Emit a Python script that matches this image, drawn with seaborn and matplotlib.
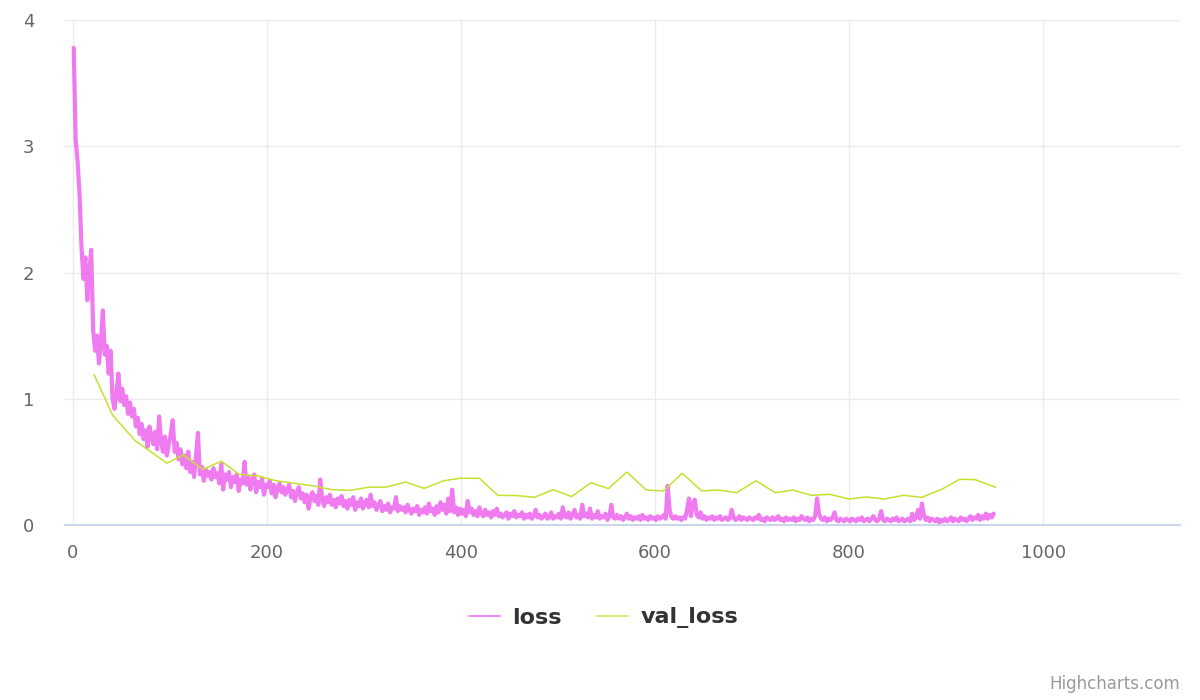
import numpy as np
import pandas as pd
import matplotlib
matplotlib.use("Agg")
import matplotlib.pyplot as plt
import seaborn as sns

# ---- data ----
loss_step_start = 1
loss_step_every = 2
loss = [
    3.78, 3.05, 2.88, 2.62, 2.20, 1.95, 2.12, 1.78, 2.00, 2.18,
    1.55, 1.38, 1.50, 1.28, 1.45, 1.70, 1.35, 1.42, 1.20, 1.38,
    1.00, 0.92, 1.05, 1.20, 0.98, 1.08, 0.95, 1.02, 0.88, 0.97,
    0.86, 0.92, 0.78, 0.85, 0.72, 0.80, 0.68, 0.75, 0.62, 0.78,
    0.70, 0.64, 0.74, 0.60, 0.86, 0.66, 0.58, 0.70, 0.55, 0.64,
    0.72, 0.83, 0.58, 0.65, 0.52, 0.60, 0.48, 0.55, 0.45, 0.58,
    0.42, 0.50, 0.38, 0.55, 0.73, 0.40, 0.46, 0.35, 0.44, 0.39,
    0.42, 0.36, 0.45, 0.38, 0.41, 0.33, 0.48, 0.28, 0.40, 0.36,
    0.42, 0.30, 0.38, 0.34, 0.40, 0.27, 0.36, 0.33, 0.50, 0.32,
    0.38, 0.28, 0.35, 0.40, 0.26, 0.34, 0.30, 0.37, 0.24, 0.32,
    0.30, 0.35, 0.25, 0.32, 0.22, 0.29, 0.33, 0.26, 0.30, 0.24,
    0.28, 0.32, 0.22, 0.27, 0.19, 0.26, 0.30, 0.21, 0.25, 0.18,
    0.24, 0.13, 0.22, 0.26, 0.19, 0.23, 0.16, 0.36, 0.20, 0.15,
    0.22, 0.18, 0.24, 0.16, 0.20, 0.14, 0.21, 0.17, 0.23, 0.15,
    0.19, 0.13, 0.20, 0.16, 0.22, 0.12, 0.18, 0.15, 0.21, 0.13,
    0.17, 0.20, 0.14, 0.24, 0.15, 0.18, 0.12, 0.16, 0.19, 0.11,
    0.15, 0.12, 0.17, 0.10, 0.14, 0.13, 0.22, 0.11, 0.15, 0.12,
    0.14, 0.10, 0.16, 0.12, 0.09, 0.13, 0.11, 0.15, 0.08, 0.12,
    0.10, 0.14, 0.09, 0.17, 0.11, 0.13, 0.08, 0.15, 0.10, 0.18,
    0.12, 0.16, 0.09, 0.21, 0.11, 0.28, 0.10, 0.14, 0.08, 0.13,
    0.09, 0.12, 0.07, 0.19, 0.10, 0.13, 0.08, 0.11, 0.07, 0.14,
    0.09, 0.07, 0.12, 0.08, 0.10, 0.06, 0.11, 0.08, 0.13, 0.07,
    0.09, 0.06, 0.08, 0.10, 0.05, 0.09, 0.07, 0.11, 0.06, 0.08,
    0.07, 0.10, 0.05, 0.08, 0.06, 0.09, 0.05, 0.07, 0.12, 0.06,
    0.08, 0.05, 0.07, 0.09, 0.05, 0.06, 0.10, 0.05, 0.07, 0.06,
    0.09, 0.05, 0.14, 0.07, 0.06, 0.10, 0.05, 0.08, 0.12, 0.06,
    0.08, 0.05, 0.16, 0.07, 0.09, 0.06, 0.13, 0.05, 0.08, 0.06,
    0.11, 0.05, 0.07, 0.06, 0.09, 0.04, 0.07, 0.16, 0.06, 0.05,
    0.08, 0.05, 0.07, 0.04, 0.06, 0.09, 0.05, 0.07, 0.04, 0.06,
    0.05, 0.07, 0.04, 0.08, 0.05, 0.06, 0.04, 0.07, 0.05, 0.06,
    0.04, 0.07, 0.05, 0.06, 0.08, 0.05, 0.31, 0.12, 0.06, 0.05,
    0.07, 0.05, 0.06, 0.04, 0.06, 0.05, 0.12, 0.21, 0.07, 0.17,
    0.20, 0.08, 0.06, 0.10, 0.05, 0.07, 0.04, 0.06, 0.05, 0.07,
    0.04, 0.06, 0.05, 0.07, 0.04, 0.05, 0.06, 0.04, 0.05, 0.12,
    0.06, 0.04, 0.05, 0.07, 0.04, 0.06, 0.05, 0.04, 0.06, 0.05,
    0.04, 0.06, 0.05, 0.08, 0.04, 0.05, 0.03, 0.06, 0.05, 0.04,
    0.06, 0.04, 0.05, 0.07, 0.04, 0.05, 0.03, 0.06, 0.04, 0.05,
    0.04, 0.06, 0.03, 0.05, 0.04, 0.07, 0.05, 0.04, 0.06, 0.03,
    0.05, 0.04, 0.07, 0.21, 0.09, 0.05, 0.04, 0.06, 0.03, 0.05,
    0.04, 0.06, 0.10, 0.04, 0.03, 0.05, 0.04, 0.03, 0.05, 0.04,
    0.03, 0.05, 0.04, 0.03, 0.05, 0.04, 0.06, 0.03, 0.04, 0.05,
    0.03, 0.05, 0.07, 0.04, 0.03, 0.05, 0.11, 0.04, 0.03, 0.05,
    0.04, 0.03, 0.05, 0.04, 0.06, 0.03, 0.04, 0.05, 0.03, 0.04,
    0.05, 0.03, 0.09, 0.04, 0.06, 0.12, 0.05, 0.17, 0.08, 0.04,
    0.06, 0.03, 0.05, 0.04, 0.03, 0.05, 0.02, 0.04, 0.03, 0.05,
    0.03, 0.04, 0.06, 0.03, 0.05, 0.04, 0.03, 0.06, 0.04, 0.05,
    0.03, 0.05, 0.07, 0.04, 0.06, 0.05, 0.08, 0.04, 0.07, 0.05,
    0.09, 0.05, 0.08, 0.06, 0.09,
]
loss_steps = [loss_step_start + loss_step_every * i for i in range(len(loss))]

val_steps = [22, 41, 64, 97, 114, 134, 153, 172, 190, 210,
             229, 248, 267, 286, 306, 323, 343, 362, 382, 399,
             419, 438, 457, 476, 495, 514, 534, 552, 571, 591,
             609, 628, 648, 665, 684, 704, 724, 742, 761, 780,
             800, 818, 836, 856, 875, 896, 914, 930, 951]
val_loss = [1.19, 0.87, 0.67, 0.49, 0.555, 0.44, 0.505, 0.40, 0.39, 0.35,
            0.33, 0.31, 0.28, 0.275, 0.30, 0.30, 0.34, 0.29, 0.35, 0.37,
            0.37, 0.235, 0.233, 0.22, 0.28, 0.225, 0.335, 0.288, 0.42, 0.277,
            0.27, 0.41, 0.27, 0.277, 0.256, 0.35, 0.256, 0.277, 0.235, 0.243,
            0.206, 0.222, 0.206, 0.235, 0.219, 0.285, 0.362, 0.359, 0.30]

x_ticks = [0, 200, 400, 600, 800, 1000]
y_ticks = [0, 1, 2, 3, 4]
series_names = ["loss", "val_loss"]

# ---- style ----
sns.set_style("white")
plt.rcParams['font.family'] = ['DejaVu Sans']

LOSS_C = "#eb4feb"
VAL_C = "#c6e02e"

fig = plt.figure(figsize=(12, 7), dpi=100)
ax = fig.add_axes([65 / 1200, 1 - 525 / 700, (1180 - 65) / 1200, (525 - 20) / 700])

df_loss = pd.DataFrame({"step": loss_steps, "value": loss})
df_val = pd.DataFrame({"step": val_steps, "value": val_loss})

sns.lineplot(data=df_loss, x="step", y="value", ax=ax, color=LOSS_C,
             linewidth=3.0, alpha=0.75, label=series_names[0], legend=False)
sns.lineplot(data=df_val, x="step", y="value", ax=ax, color=VAL_C,
             linewidth=1.1, label=series_names[1], legend=False)

ax.set_xlim(-8, 1141)
ax.set_ylim(0, 4)
ax.set_xticks(x_ticks)
ax.set_yticks(y_ticks)
ax.set_xlabel("")
ax.set_ylabel("")

ax.grid(True, color="#ebebeb", linewidth=1)
ax.set_axisbelow(True)
for s in ["top", "right", "left"]:
    ax.spines[s].set_visible(False)
ax.spines["bottom"].set_color("#ccd6eb")
ax.spines["bottom"].set_linewidth(1.5)

ax.tick_params(axis="x", length=7, width=1, color="#ccd6eb", pad=7,
               labelsize=13, labelcolor="#666666")
ax.tick_params(axis="y", length=0, pad=22, labelsize=13, labelcolor="#666666")

handles = [plt.Line2D([], [], color="#f08ff0", linewidth=1.5),
           plt.Line2D([], [], color="#d8ea80", linewidth=1.5)]
leg = fig.legend(handles, series_names, loc="center", bbox_to_anchor=(0.503, 1 - 618 / 700),
                 ncol=2, frameon=False, handlelength=1.4, columnspacing=1.6,
                 handletextpad=0.55, prop={"size": 16, "weight": "bold"})
for t in leg.get_texts():
    t.set_color("#333333")

fig.text(1180 / 1200, 1 - 684 / 700, "Highcharts.com", ha="right", va="center",
         fontsize=12, color="#999999")

fig.savefig("out.png", dpi=100, facecolor="white")
